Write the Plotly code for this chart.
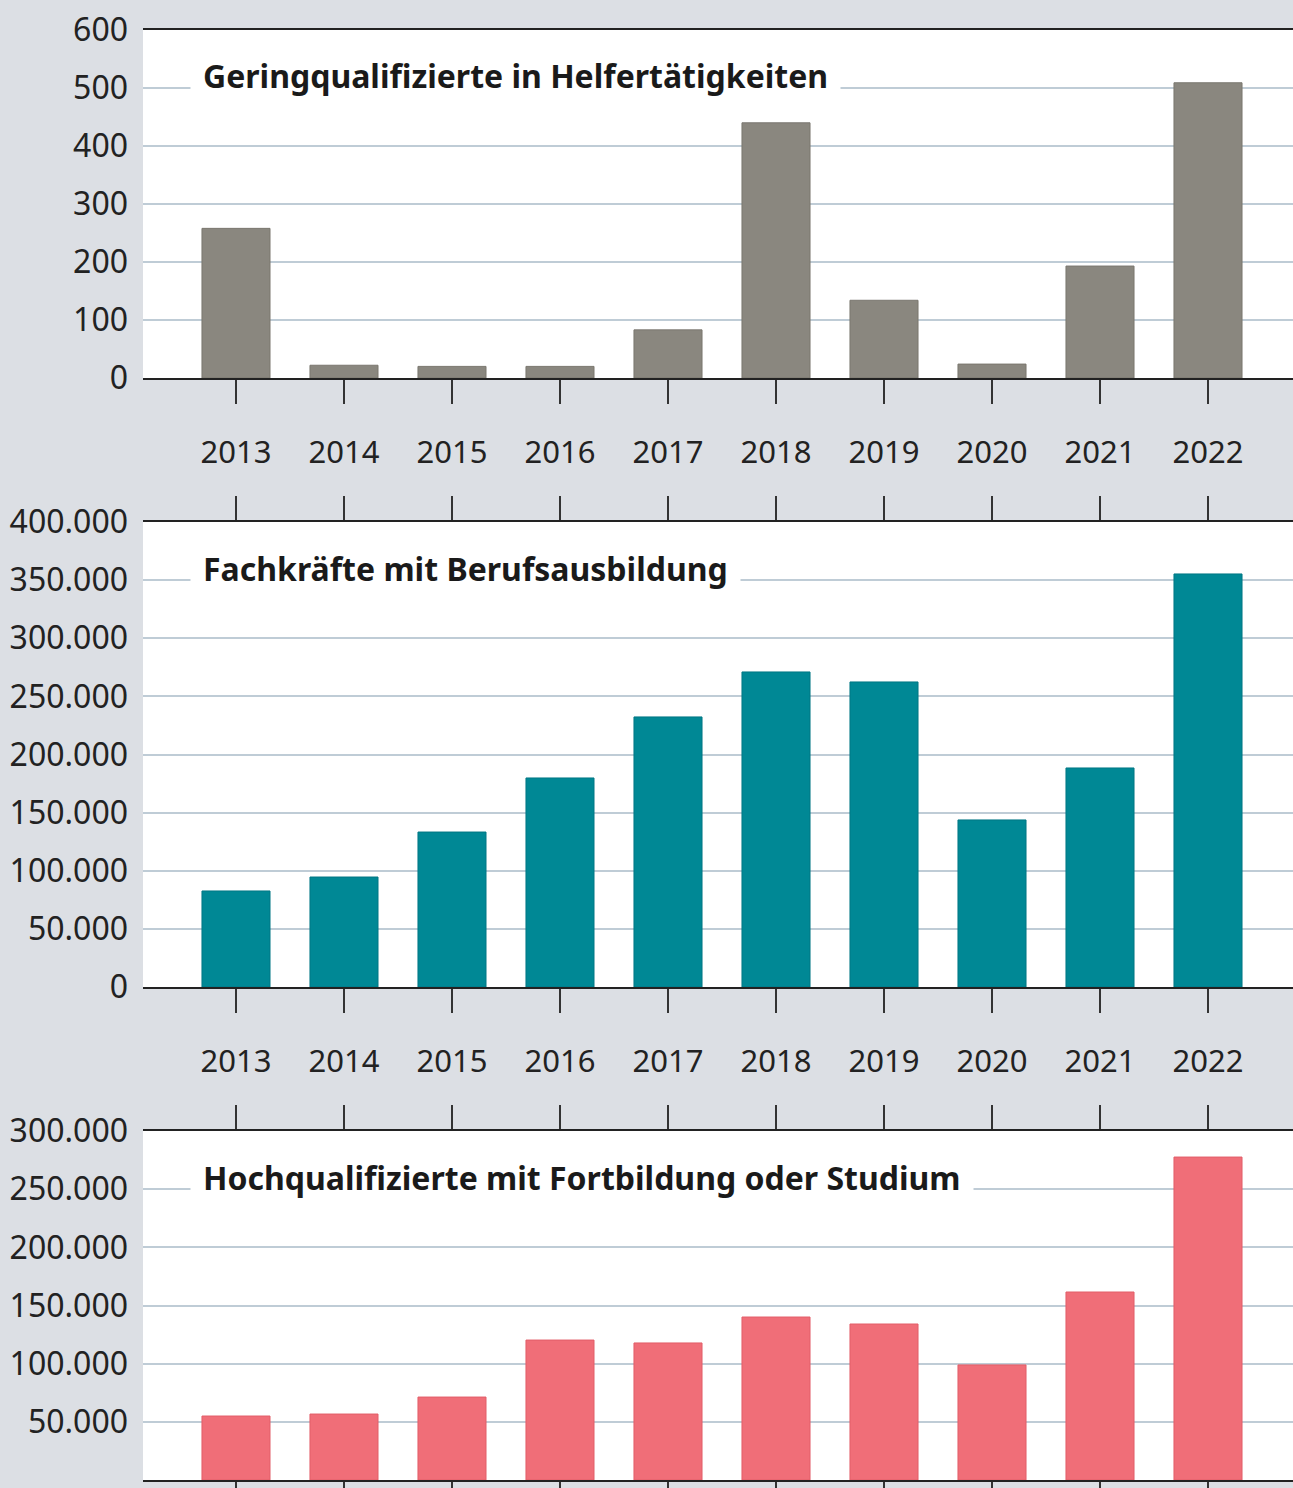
import plotly.graph_objects as go

years = ["2013", "2014", "2015", "2016", "2017", "2018", "2019", "2020", "2021", "2022"]
gering = [258, 22, 20, 20, 83, 440, 134, 24, 193, 509]
fach = [82600, 94600, 133300, 179800, 232300, 271000, 262400, 143700, 188400, 355300]
hoch = [55000, 56700, 71300, 120300, 117800, 140100, 134100, 98900, 161600, 277600]

titles = ["Geringqualifizierte in Helfertätigkeiten",
          "Fachkräfte mit Berufsausbildung",
          "Hochqualifizierte mit Fortbildung oder Studium"]
colors = ["#8a877f", "#008895", "#f06e78"]
edge = ["#7a776f", "#007784", "#e25e68"]
yranges = [[0, 600], [0, 400000], [0, 300000]]
dticks = [100, 50000, 50000]

H = 1488.0
W = 1293
tops = [30, 522, 1131]
bots = [378, 987, 1480]

fig = go.Figure()
series = [gering, fach, hoch]
for i in range(3):
    sfx = "" if i == 0 else str(i + 1)
    fig.add_trace(go.Bar(
        x=years, y=series[i], xaxis="x" + sfx, yaxis="y" + sfx,
        marker=dict(color=colors[i], line=dict(color=edge[i], width=1)),
        showlegend=False, hoverinfo="x+y"))

layout = dict(
    width=W, height=int(H),
    margin=dict(l=143, r=0, t=0, b=0),
    paper_bgcolor="#dcdfe4",
    plot_bgcolor="#ffffff",
    separators=",.",
    bargap=0.37,
    font=dict(family="Noto Sans, Open Sans, sans-serif", size=31, color="#222222"),
    annotations=[],
)
for i in range(3):
    sfx = "" if i == 0 else str(i + 1)
    dom = [1 - bots[i] / H, 1 - tops[i] / H]
    layout["xaxis" + sfx] = dict(
        type="category", range=[-0.861, 9.787], anchor="y" + sfx,
        domain=[0, 1], ticks="outside", ticklen=24, tickwidth=2, tickcolor="#333333",
        showline=True, linecolor="#222222", linewidth=2,
        mirror=True if i == 0 else "ticks",
        showgrid=False, automargin=False,
        showticklabels=(i < 2), ticklabelstandoff=22,
        tickfont=dict(size=31, color="#222222"),
    )
    layout["yaxis" + sfx] = dict(
        domain=dom, anchor="x" + sfx, range=yranges[i], dtick=dticks[i],
        tickformat=",.0f", showgrid=True, gridcolor="#bfccd6", gridwidth=2,
        zeroline=False, showline=False, ticks="", automargin=False,
        ticklabelstandoff=14,
        tickfont=dict(size=32, color="#222222"),
    )
    layout["annotations"].append(dict(
        text="<b>" + titles[i] + "</b>",
        xref=("x" + sfx + " domain"), yref=("y" + sfx + " domain"),
        x=(190 - 143) / (W - 143), y=1 - 46 / (bots[i] - tops[i]),
        xanchor="left", yanchor="middle", showarrow=False,
        bgcolor="#ffffff", borderpad=12,
        font=dict(size=32, color="#1a1a1a"),
    ))

fig.update_layout(**layout)
fig.write_html("out.html", config={"displayModeBar": False},
               post_script="document.body.style.margin='0';document.body.style.padding='0';")
